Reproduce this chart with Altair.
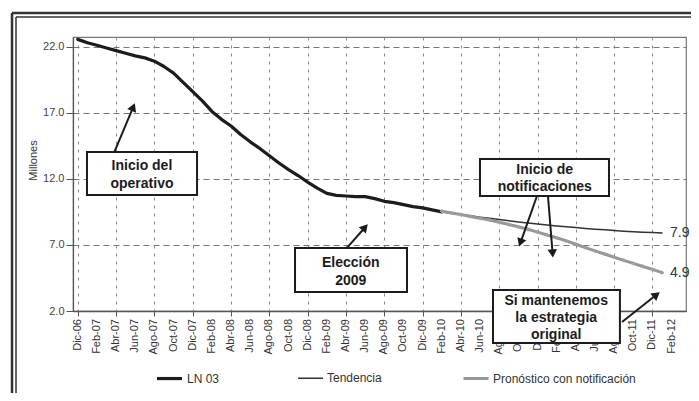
import math, json
import altair as alt
import pandas as pd

# ---------------- data ----------------
x_labels = ["Dic-06", "Feb-07", "Abr-07", "Jun-07", "Ago-07", "Oct-07", "Dic-07", "Feb-08",
            "Abr-08", "Jun-08", "Ago-08", "Oct-08", "Dic-08", "Feb-09", "Abr-09", "Jun-09",
            "Ago-09", "Oct-09", "Dic-09", "Feb-10", "Abr-10", "Jun-10", "Ago-10", "Oct-10",
            "Dic-10", "Feb-11", "Abr-11", "Jun-11", "Ago-11", "Oct-11", "Dic-11", "Feb-12"]

# LN 03, monthly from Dic-06 (month 0) to Feb-10 (month 38)
ln03 = [22.55, 22.3, 22.1, 21.9, 21.7, 21.5, 21.3, 21.15, 20.9, 20.5,
        20.0, 19.3, 18.6, 17.9, 17.1, 16.5, 16.0, 15.35, 14.8, 14.3,
        13.75, 13.2, 12.7, 12.25, 11.75, 11.3, 10.9, 10.75, 10.7, 10.65,
        10.65, 10.5, 10.3, 10.2, 10.05, 9.9, 9.8, 9.65, 9.5]
# Tendencia & Pronóstico, monthly from Feb-10 (month 38) to Ene-12 (month 61)
tendencia = [9.50, 9.40, 9.30, 9.20, 9.10, 9.01, 8.92, 8.83, 8.74, 8.66, 8.58, 8.51,
             8.44, 8.37, 8.31, 8.25, 8.19, 8.14, 8.09, 8.04, 8.00, 7.96, 7.93, 7.90]
pronostico = [9.55, 9.42, 9.30, 9.15, 9.01, 8.88, 8.72, 8.54, 8.37, 8.18, 7.97, 7.75,
              7.54, 7.30, 7.05, 6.80, 6.55, 6.31, 6.07, 5.83, 5.60, 5.37, 5.15, 4.90]
series_names = ["LN 03", "Tendencia", "Pronóstico con notificación"]

rows = []
for i, v in enumerate(ln03):
    rows.append({"m": i, "v": v, "s": series_names[0]})
for i, v in enumerate(tendencia):
    rows.append({"m": 38 + i, "v": v, "s": series_names[1]})
for i, v in enumerate(pronostico):
    rows.append({"m": 38 + i, "v": v, "s": series_names[2]})
df = pd.DataFrame(rows)
df_pron = df[df.s == series_names[2]]

tick_df = pd.DataFrame({"m": [2 * i for i in range(len(x_labels))], "t": x_labels})

end_labels = pd.DataFrame([
    {"m": 38 + len(tendencia) - 1, "v": tendencia[-1], "t": f"{tendencia[-1]:.1f}", "dy": -6},
    {"m": 38 + len(pronostico) - 1, "v": pronostico[-1], "t": f"{pronostico[-1]:.1f}", "dy": -2},
])

# ---------------- layout ----------------
W, H = 613, 274
XD = [-0.5, 63.5]
YD = [2.0, 22.73]
PX = W / (XD[1] - XD[0])
PY = H / (YD[1] - YD[0])
FONT = "Liberation Sans"
INK = "#1c1c1c"

xs = alt.Scale(domain=XD, nice=False, zero=False)
ys = alt.Scale(domain=YD, nice=False, zero=False)

# annotation boxes (in data units)
boxes = pd.DataFrame([
    {"x": 0.96, "x2": 12.45, "y": 14.03, "y2": 10.78},
    {"x": 22.68, "x2": 34.37, "y": 6.77, "y2": 3.44},
    {"x": 41.99, "x2": 55.46, "y": 13.50, "y2": 10.70},
    {"x": 43.35, "x2": 56.60, "y": 3.59, "y2": -0.42},
])
texts = pd.DataFrame([
    {"x": 6.7, "y": 12.97, "t": "Inicio del"},
    {"x": 6.7, "y": 11.61, "t": "operativo"},
    {"x": 28.5, "y": 5.64, "t": "Elección"},
    {"x": 28.5, "y": 4.27, "t": "2009"},
    {"x": 48.75, "y": 12.67, "t": "Inicio de"},
    {"x": 48.75, "y": 11.38, "t": "notificaciones"},
    {"x": 49.95, "y": 2.76, "t": "Si mantenemos"},
    {"x": 49.95, "y": 1.47, "t": "la estrategia"},
    {"x": 49.95, "y": 0.19, "t": "original"},
])
arrows = [
    (3.78, 13.96, 5.97, 17.74),
    (28.1, 6.77, 30.3, 8.58),
    (47.94, 10.70, 46.06, 6.85),
    (49.09, 10.70, 49.61, 6.01),
    (56.82, 1.17, 60.79, 3.44),
]
shafts, heads = [], []
for x1, y1, x2, y2 in arrows:
    dxp = (x2 - x1) * PX
    dyp = (y2 - y1) * PY  # up positive
    L = math.hypot(dxp, dyp)
    ux, uy = dxp / L, dyp / L
    ang = math.degrees(math.atan2(dxp, dyp)) % 360
    back = 7.0
    shafts.append({"x": x1, "y": y1, "x2": x2 - ux * back / PX, "y2": y2 - uy * back / PY})
    heads.append({"x": x2 - ux * 4.5 / PX, "y": y2 - uy * 4.5 / PY, "a": ang})
shafts = pd.DataFrame(shafts)
heads = pd.DataFrame(heads)

# ---------------- chart ----------------
base_x = alt.X("m:Q", scale=xs, axis=alt.Axis(
    values=[2 * i for i in range(len(x_labels))], labels=False, tickSize=5, tickColor="#555",
    domainColor="#555", domainWidth=1.5, grid=True, gridDash=[3, 5], gridColor="#8a8a8a",
    gridWidth=1, title=None))
base_y = alt.Y("v:Q", scale=ys, axis=alt.Axis(
    values=[2, 7, 12, 17, 22], format=".1f", labelFontSize=11, labelColor="#444",
    tickSize=7, tickColor="#555", labelPadding=2, domainColor="#555", domainWidth=1.2,
    grid=True, gridDash=[6, 4], gridColor="#777", gridWidth=1.2, labelFont=FONT,
    title="Millones", titleFontSize=11, titleFontWeight="normal", titleColor="#333",
    titleFont=FONT, titleX=-40, titleY=123, titleAlign="center", titleBaseline="middle"))

lines = alt.Chart(df).mark_line(strokeCap="round", strokeJoin="round").encode(
    x=base_x, y=base_y,
    color=alt.Color("s:N", scale=alt.Scale(domain=series_names, range=[INK, "#333333", "#969696"]),
                    sort=series_names,
                    legend=alt.Legend(title=None, orient="none", direction="horizontal",
                                      legendX=82, legendY=327, columnPadding=75,
                                      labelFont=FONT, labelFontSize=12, labelColor="#333",
                                      symbolType="stroke", symbolSize=625, labelOffset=3)),
    strokeWidth=alt.StrokeWidth("s:N", scale=alt.Scale(type="ordinal", domain=series_names,
                                                       range=[3.2, 1.5, 3.0]),
                                sort=series_names, legend=alt.Legend(title=None)),
    order=alt.Order("m:Q"),
    detail="s:N",
)
marks_pron = alt.Chart(df_pron).mark_point(shape="cross", size=14, filled=True, color="#a0a0a0", opacity=0.9).encode(
    x=alt.X("m:Q", scale=xs), y=alt.Y("v:Q", scale=ys))

# x tick labels (rotated), from the label list
tick_labels = alt.Chart(tick_df).mark_text(angle=270, align="right", baseline="middle", dy=0, dx=-8,
                                           font=FONT, fontSize=11, color="#333").encode(
    x=alt.X("m:Q", scale=xs), y=alt.value(H), text="t:N")

end_txt = alt.Chart(end_labels).mark_text(align="left", baseline="middle", dx=8, fontSize=14,
                                          font=FONT, color="#333").encode(
    x=alt.X("m:Q", scale=xs), y=alt.Y("v:Q", scale=ys), text="t:N", yOffset=alt.YOffset("dy:Q", scale=None))

box_layer = alt.Chart(boxes).mark_rect(fill="white", stroke=INK, strokeWidth=2).encode(
    x=alt.X("x:Q", scale=xs), x2="x2:Q", y=alt.Y("y:Q", scale=ys), y2="y2:Q")
text_layer = alt.Chart(texts).mark_text(font=FONT, fontSize=14, fontWeight="bold", color=INK,
                                        baseline="middle", align="center").encode(
    x=alt.X("x:Q", scale=xs), y=alt.Y("y:Q", scale=ys), text="t:N")
shaft_layer = alt.Chart(shafts).mark_rule(color=INK, strokeWidth=2).encode(
    x=alt.X("x:Q", scale=xs), x2="x2:Q", y=alt.Y("y:Q", scale=ys), y2="y2:Q")
head_layer = alt.Chart(heads).mark_point(shape="triangle-up", filled=True, color=INK, size=90, opacity=1).encode(
    x=alt.X("x:Q", scale=xs), y=alt.Y("y:Q", scale=ys), angle=alt.Angle("a:Q", scale=None))

# outer double frame (decoration)
def rule(x, x2, y, y2, w):
    return alt.Chart(pd.DataFrame({"k": [0]})).mark_rule(color="#333", strokeWidth=w).encode(
        x=alt.value(x), x2=alt.value(x2), y=alt.value(y), y2=alt.value(y2))

frame = (rule(-61, W + 40, -24, -24, 2.5) + rule(-57, W + 40, -20, -20, 1.5) +
         rule(-61, -61, -24, H + 120, 2.5) + rule(-57, -57, -20, H + 120, 1.5))

chart = alt.layer(
    frame, lines, marks_pron, tick_labels, end_txt, box_layer, text_layer, shaft_layer, head_layer
).properties(
    width=W, height=H,
    autosize=alt.AutoSizeParams(type="none"),
    padding={"left": 65, "top": 29, "right": 5, "bottom": 82},
    background="white",
).configure_view(stroke="#777", strokeWidth=1.2)

chart.save("out.html", embed_options={"renderer": "svg", "actions": False})
